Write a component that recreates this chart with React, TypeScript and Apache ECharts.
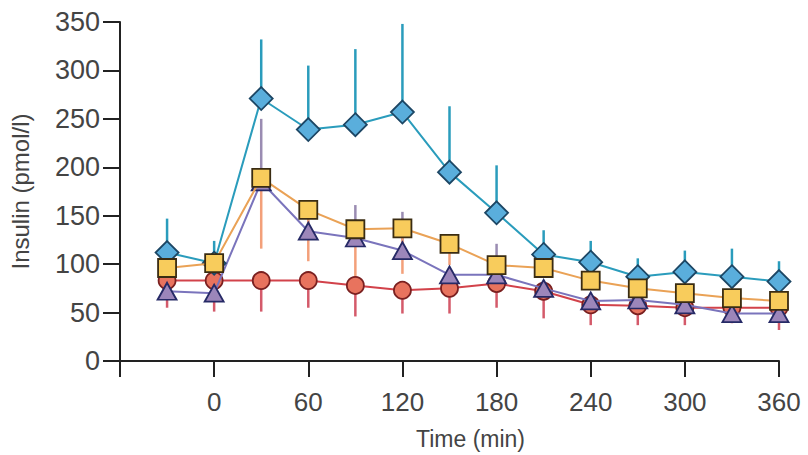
import React, { useEffect, useRef } from "react";
import * as echarts from "echarts";

const times = [-30, 0, 30, 60, 90, 120, 150, 180, 210, 240, 270, 300, 330, 360];
const xTicks = [-60, 0, 60, 120, 180, 240, 300, 360];
const yTicks = [0, 50, 100, 150, 200, 250, 300, 350];

const diamondMean = [112, 101, 271, 239, 244, 257, 195, 153, 110, 102, 87, 92, 87, 82];
const diamondUpper = [147, 124, 332, 305, 322, 348, 263, 202, 135, 124, 106, 114, 116, 103];

const squareMean = [96, 101, 189, 156, 136, 137, 121, 99, 96, 83, 75, 70, 65, 62];
const squareLower = [88, 93, 116, 103, 85, 90, 99, 91, 88, 75, 67, 62, 57, 54];

const triangleMean = [72, 70, 185, 134, 127, 114, 89, 89, 75, 62, 63, 58, 49, 49];
const triangleUpper = [80, 78, 250, 145, 161, 154, 97, 121, 83, 70, 71, 66, 57, 57];

const circleMean = [83, 83, 83, 83, 78, 73, 75, 80, 72, 58, 57, 55, 55, 55];
const circleLower = [55, 51, 51, 55, 46, 49, 49, 55, 44, 37, 37, 37, 39, 32];

const FONT = "'Liberation Sans', Arial, Helvetica, sans-serif";

function errorSeries(name: string, mean: number[], bound: number[], color: string, z: number) {
  return {
    name,
    type: "custom",
    z,
    data: times.map((t, i) => [t, mean[i], bound[i]]),
    encode: { x: 0, y: [1, 2] },
    renderItem: (params: any, api: any) => {
      const x = api.value(0);
      const a = api.coord([x, api.value(1)]);
      const b = api.coord([x, api.value(2)]);
      return {
        type: "line",
        shape: { x1: a[0], y1: a[1], x2: b[0], y2: b[1] },
        style: { stroke: color, lineWidth: 2.5 },
      };
    },
  };
}

function lineSeries(
  name: string,
  mean: number[],
  symbol: string,
  size: number | number[],
  line: string,
  fill: string,
  border: string,
  z: number
) {
  return {
    name,
    type: "line",
    z,
    data: times.map((t, i) => [t, mean[i]]),
    symbol,
    symbolSize: size,
    showAllSymbol: true,
    lineStyle: { color: line, width: 2 },
    itemStyle: { color: fill, borderColor: border, borderWidth: 1.8 },
  };
}

export default function App() {
  const ref = useRef<HTMLDivElement>(null);
  useEffect(() => {
    if (!ref.current) return;
    const chart = echarts.init(ref.current, undefined, { renderer: "svg" });
    chart.setOption({
      animation: false,
      backgroundColor: "#ffffff",
      grid: { left: 120, right: 29, top: 22, bottom: 92, containLabel: false },
      xAxis: {
        type: "value",
        min: -60,
        max: 360,
        interval: 60,
        name: "Time (min)",
        nameLocation: "middle",
        nameGap: 66,
        nameTextStyle: { fontFamily: FONT, fontSize: 23, color: "#444", padding: [0, 0, 0, 42] },
        axisLine: { show: true, onZero: false, lineStyle: { color: "#222", width: 2 } },
        axisTick: { show: true, length: 16, inside: false, lineStyle: { color: "#222", width: 2 } },
        axisLabel: {
          fontFamily: FONT,
          fontSize: 26,
          color: "#444",
          margin: 28,
          formatter: (v: number) => (xTicks.indexOf(v) > 0 ? String(v) : ""),
        },
        splitLine: { show: false },
      },
      yAxis: {
        type: "value",
        min: 0,
        max: 350,
        interval: 50,
        name: "Insulin (pmol/l)",
        nameLocation: "middle",
        nameGap: 88,
        nameRotate: 90,
        nameTextStyle: { fontFamily: FONT, fontSize: 24, color: "#444" },
        axisLine: { show: true, onZero: false, lineStyle: { color: "#222", width: 2 } },
        axisTick: { show: true, length: 17, inside: false, lineStyle: { color: "#222", width: 2 } },
        axisLabel: {
          fontFamily: FONT,
          fontSize: 27,
          color: "#444",
          margin: 20,
          formatter: (v: number) => (yTicks.indexOf(v) >= 0 ? String(v) : ""),
        },
        splitLine: { show: false },
      },
      series: [
        errorSeries("circleErr", circleMean, circleLower, "#d45a6a", 1),
        errorSeries("triangleErr", triangleMean, triangleUpper, "#9a8cb2", 1),
        errorSeries("squareErr", squareMean, squareLower, "#f3a07a", 1),
        errorSeries("diamondErr", diamondMean, diamondUpper, "#2a9cbc", 1),
        lineSeries("Circle", circleMean, "circle", 17, "#d2424a", "#e8735e", "#7a2020", 2),
        lineSeries("Triangle", triangleMean, "triangle", [19, 17], "#7a74bc", "#9c86ba", "#262a66", 3),
        lineSeries("Diamond", diamondMean, "diamond", 23, "#2a9cbc", "#5aaedc", "#1c4664", 4),
        lineSeries("Square", squareMean, "rect", 18, "#eaa256", "#f8cc5c", "#3a2c12", 5),
      ],
    });
    return () => chart.dispose();
  }, []);
  return (
    <div
      ref={ref}
      style={{ position: "fixed", left: 0, top: 0, width: 808, height: 455, background: "#fff" }}
    />
  );
}
